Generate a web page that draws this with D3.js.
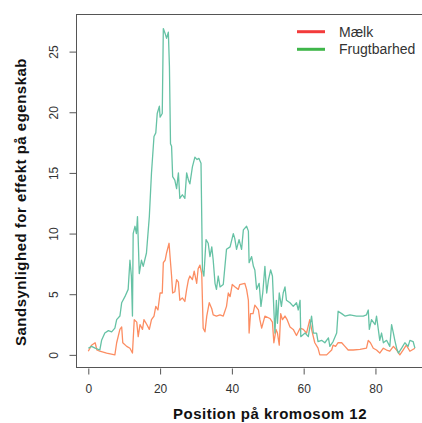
<!DOCTYPE html>
<html>
<head>
<meta charset="utf-8">
<script src="https://cdn.jsdelivr.net/npm/d3@7"></script>
<style>
	body { margin: 0; background: #fff; }
	svg text { font-family: "Liberation Sans", Arial, sans-serif; }
</style>
</head>
<body>
<svg id="chart" width="422" height="423"></svg>
<script>
// positions (cM) and scores
var fruitPos = [0, 0.9, 1.9, 3.2, 3.7, 4.6, 5.6, 6.5, 7.4, 7.9, 8.8, 9.3, 10.2, 11.1, 11.6, 12.0, 12.3, 12.5, 13.0, 13.4, 13.7, 14.2, 14.8, 15.3, 16.2, 17.0, 17.6, 18.3, 18.8, 19.2, 19.8, 20.0, 20.6, 20.9, 21.4, 21.8, 22.3, 22.6, 22.9, 23.2, 23.5, 24.1, 24.6, 25.1, 25.5, 26.2, 26.9, 27.4, 27.9, 28.3, 29.0, 29.7, 30.3, 30.8, 31.4, 31.8, 32.2, 32.8, 33.4, 33.9, 34.4, 34.8, 35.3, 35.7, 36.2, 36.7, 37.6, 38.5, 39.5, 40.4, 40.8, 41.3, 42.0, 42.7, 43.2, 44.1, 44.6, 44.8, 45.5, 46.0, 46.4, 46.9, 47.6, 48.1, 48.6, 49.2, 49.7, 50.2, 50.8, 51.3, 51.7, 52.0, 52.4, 52.7, 53.2, 53.8, 54.3, 54.8, 55.2, 56.2, 57.1, 58.0, 58.5, 59.0, 59.2, 60.4, 61.3, 62.2, 62.7, 63.6, 64.0, 65.0, 65.9, 66.9, 67.3, 68.2, 69.2, 69.6, 70.6, 71.5, 72.9, 74.7, 76.6, 77.5, 78.0, 78.3, 78.9, 79.9, 80.3, 80.8, 81.2, 81.7, 82.2, 83.1, 84.0, 84.5, 85.0, 85.4, 85.9, 86.4, 87.3, 88.2, 89.1, 89.6, 90.5, 91.0];
var fruitVal = [0.55, 0.7, 0.55, 0.4, 1.2, 1.8, 2.0, 1.9, 2.2, 2.9, 3.2, 4.3, 4.8, 5.4, 7.8, 6.5, 3.2, 10.0, 10.6, 10.0, 11.4, 6.7, 7.8, 7.3, 8.4, 11.4, 15.0, 18.0, 18.3, 19.9, 20.5, 19.6, 19.9, 26.9, 26.5, 26.1, 26.6, 23.8, 17.4, 17.2, 14.7, 14.4, 13.7, 15.0, 12.9, 13.2, 12.9, 15.0, 14.4, 14.1, 15.5, 16.3, 16.1, 16.2, 15.8, 7.0, 6.5, 9.5, 9.2, 8.1, 8.9, 7.8, 5.9, 5.4, 6.5, 5.6, 5.8, 8.7, 8.9, 10.0, 9.6, 8.7, 9.5, 8.7, 10.3, 10.6, 10.2, 7.6, 8.1, 7.3, 7.0, 5.4, 5.9, 4.0, 5.1, 7.3, 5.1, 6.2, 7.0, 6.5, 3.7, 1.8, 4.5, 2.6, 5.1, 4.0, 5.1, 5.6, 4.5, 4.3, 4.0, 4.3, 3.7, 4.5, 1.5, 1.8, 1.5, 3.2, 1.8, 1.8, 1.1, 1.2, 1.0, 1.4, 0.7, 1.1, 1.8, 3.6, 3.4, 3.2, 3.3, 3.2, 3.2, 3.3, 3.7, 2.1, 2.9, 2.5, 3.2, 2.1, 1.2, 1.8, 1.0, 1.2, 0.7, 2.5, 1.8, 1.2, 0.55, 0.15, 0.55, 1.0, 0.7, 1.2, 1.1, 0.55];

var milkPos = [0, 0.9, 1.9, 2.4, 3.2, 5.1, 7.4, 7.9, 8.8, 9.3, 9.6, 10.7, 11.6, 12.3, 12.8, 13.5, 13.9, 14.4, 15.1, 15.5, 16.3, 17.0, 17.6, 18.3, 18.8, 19.4, 20.0, 20.6, 20.9, 21.4, 21.8, 22.5, 22.8, 23.2, 23.5, 24.1, 24.6, 25.1, 25.5, 26.2, 26.9, 27.4, 27.9, 28.3, 29.0, 29.5, 30.2, 30.6, 31.1, 31.6, 32.0, 32.5, 33.0, 33.7, 34.4, 34.8, 35.7, 36.7, 37.6, 38.5, 39.0, 39.5, 40.1, 40.9, 41.8, 42.2, 43.6, 44.1, 44.6, 44.8, 45.2, 45.9, 46.4, 47.4, 47.8, 48.3, 49.2, 50.6, 51.3, 51.7, 52.3, 52.7, 53.2, 53.6, 54.1, 54.8, 55.4, 56.2, 57.1, 58.0, 59.0, 59.9, 60.8, 61.7, 62.2, 63.1, 64.0, 64.5, 66.4, 67.8, 68.2, 68.9, 69.6, 70.6, 71.5, 72.4, 73.8, 75.7, 77.5, 78.0, 78.6, 79.4, 80.3, 81.2, 82.2, 83.1, 84.0, 85.0, 85.9, 86.8, 87.7, 88.6, 89.6, 91.0];
var milkVal = [0.3, 0.8, 1.0, 0.4, 0.3, 0.15, 0.0, 1.0, 2.1, 2.3, 1.0, 0.7, 0.55, 0.15, 2.9, 2.7, 1.5, 2.5, 2.1, 2.9, 2.5, 2.1, 2.9, 3.2, 4.0, 3.7, 5.1, 5.1, 7.6, 7.8, 8.4, 9.2, 8.0, 6.5, 5.1, 5.2, 6.2, 6.0, 4.5, 4.7, 4.4, 5.4, 6.2, 6.5, 6.2, 6.9, 5.9, 7.1, 7.4, 6.7, 2.2, 1.9, 3.2, 4.3, 3.8, 3.3, 3.2, 3.3, 3.2, 4.0, 5.1, 4.8, 5.8, 5.6, 5.4, 5.8, 5.9, 5.4, 4.5, 1.8, 3.4, 3.4, 4.1, 3.7, 2.9, 2.2, 3.2, 3.0, 2.7, 1.0, 2.1, 1.8, 0.8, 3.4, 2.9, 3.2, 2.9, 2.3, 2.1, 1.6, 2.2, 2.1, 1.8, 2.9, 2.1, 1.0, 0.55, 0.0, 0.0, 0.4, 0.8, 0.7, 1.0, 1.0, 0.7, 0.4, 0.4, 0.45, 0.55, 1.2, 1.0, 0.55, 0.4, 0.15, 0.55, 0.4, 0.3, 0.7, 0.4, 0.0, 0.4, 0.8, 0.3, 0.55];

var xTicks = [0, 20, 40, 60, 80];
var yTicks = [0, 5, 10, 15, 20, 25];
var seriesNames = ["Mælk", "Frugtbarhed"];
var lineColors = ["#fc8d62", "#66c2a5"];
var legendColors = ["#f33b3b", "#3fb64a"];

var svg = d3.select("#chart"),
	box = {left: 76, top: 14, right: 430, bottom: 367};

svg.append("rect").attr("width", 422).attr("height", 423).attr("fill", "#fff");

var x = d3.scaleLinear().domain([-3.43, 95.2]).range([box.left, box.right]);
var y = d3.scaleLinear().domain([-1, 28.1]).range([box.bottom, box.top]);

var line = d3.line()
	.x(function(d) { return x(d[0]); })
	.y(function(d) { return y(d[1]); });

var milk = d3.zip(milkPos, milkVal),
	fruit = d3.zip(fruitPos, fruitVal);

[milk, fruit].forEach(function(s, i) {
	svg.append("path")
		.datum(s)
		.attr("fill", "none")
		.attr("stroke", lineColors[i])
		.attr("stroke-width", 1.3)
		.attr("stroke-linejoin", "round")
		.attr("d", line);
});

// plot box
svg.append("rect")
	.attr("x", box.left + 0.5).attr("y", box.top + 0.5)
	.attr("width", box.right - box.left).attr("height", box.bottom - box.top)
	.attr("fill", "none").attr("stroke", "#555").attr("stroke-width", 1);

var gx = svg.append("g")
	.attr("transform", "translate(0," + (box.bottom + 1.5) + ")")
	.call(d3.axisBottom(x).tickValues(xTicks).tickSize(6).tickSizeOuter(0).tickPadding(10));
gx.select(".domain").remove();
gx.selectAll("line").attr("stroke", "#555");
gx.selectAll("text").attr("font-size", 12).attr("fill", "#333");

var gy = svg.append("g")
	.attr("transform", "translate(" + (box.left + 0.5) + ",0)")
	.call(d3.axisLeft(y).tickValues(yTicks).tickSize(7).tickSizeOuter(0));
gy.select(".domain").remove();
gy.selectAll("line").attr("stroke", "#555");
gy.selectAll("text")
	.attr("font-size", 12).attr("fill", "#333")
	.attr("text-anchor", "middle")
	.attr("transform", "rotate(-90)")
	.attr("x", 0).attr("y", -23).attr("dy", "0.35em");

svg.append("text")
	.attr("transform", "translate(26,202) rotate(-90)")
	.attr("text-anchor", "middle")
	.attr("font-size", 15).attr("font-weight", "bold").attr("fill", "#111")
	.attr("letter-spacing", 0.5)
	.text("Sandsynlighed for effekt på egenskab");

svg.append("text")
	.attr("x", 270).attr("y", 419)
	.attr("text-anchor", "middle")
	.attr("font-size", 15).attr("font-weight", "bold").attr("fill", "#111")
	.attr("letter-spacing", 0.5)
	.text("Position på kromosom 12");

var legend = svg.selectAll(".legend")
	.data(seriesNames)
	.enter().append("g")
	.attr("class", "legend")
	.attr("transform", function(d, i) { return "translate(297," + (31.7 + i * 17.6) + ")"; });

legend.append("line")
	.attr("x1", 0).attr("x2", 28)
	.attr("stroke", function(d, i) { return legendColors[i]; })
	.attr("stroke-width", 3);

legend.append("text")
	.attr("x", 42).attr("dy", "0.35em")
	.attr("font-size", 14).attr("fill", "#333")
	.text(function(d) { return d; });
</script>
</body>
</html>
